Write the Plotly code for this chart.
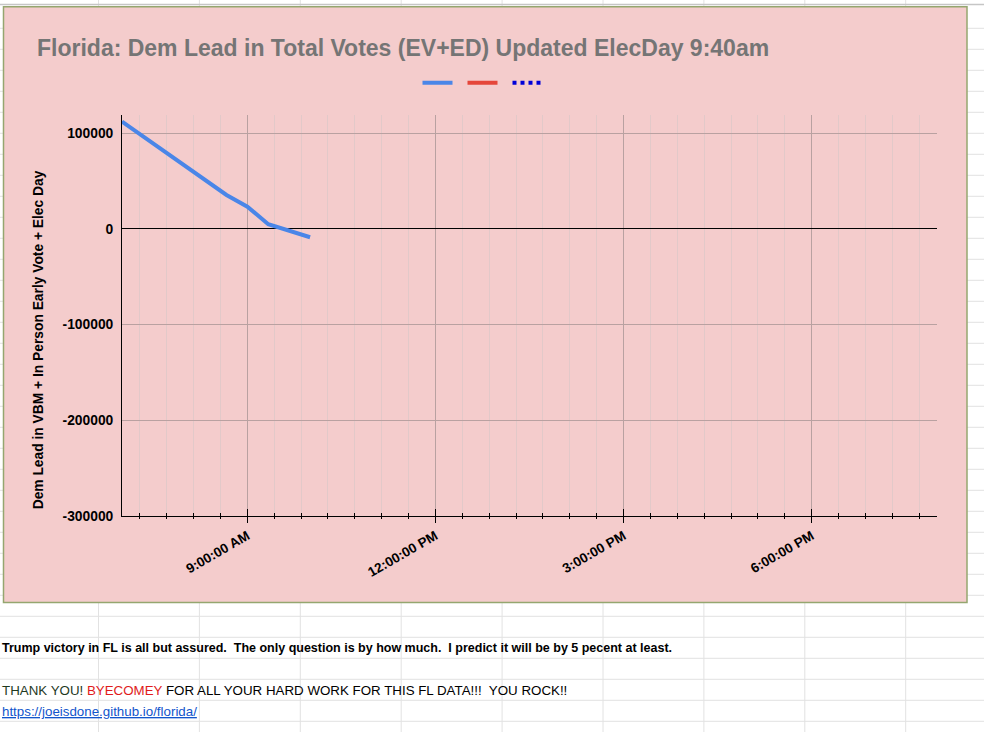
import plotly.graph_objects as go

# ---------------- data ----------------
times = ["2016-11-08 07:00", "2016-11-08 08:40", "2016-11-08 09:00",
         "2016-11-08 09:20", "2016-11-08 10:00"]
dem_lead = [112200, 35500, 23300, 4900, -8700]
rep_series = [None, None, None, None, None]
proj_series = [None, None, None, None, None]
series_names = ["", "", ""]
series_colors = ["#4a86e8", "#e5463a", "#0000d8"]
y_tickvals = [-300000, -200000, -100000, 0, 100000]
y_ticktext = ["-300000", "-200000", "-100000", "0", "100000"]
x_range = ["2016-11-08 07:00", "2016-11-08 20:00"]
y_range = [-300000, 119100]
major_tick0 = "2016-11-08 09:00"
major_dtick_ms = 3 * 3600 * 1000
minor_dtick_ms = major_dtick_ms / 7

title_text = "Florida: Dem Lead in Total Votes (EV+ED) Updated ElecDay 9:40am"
y_title = "Dem Lead in VBM + In Person Early Vote + Elec Day"
note1 = ("Trump victory in FL is all but assured.  The only question is by how much.  "
         "I predict it will be by 5 pecent at least.")
note2a = "THANK YOU! "
note2b = "BYECOMEY"
note2c = " FOR ALL YOUR HARD WORK FOR THIS FL DATA!!!  YOU ROCK!!"
link_text = "https://joeisdone.github.io/florida/"

# ---------------- layout geometry ----------------
W, H = 984, 732
ML, MR, MT, MB = 122, 47, 115, 216
PW, PH = W - ML - MR, H - MT - MB

def px_x(px):
    return (px - ML) / PW

def px_y(py):
    return 1 - (py - MT) / PH

FONT = "Arial, 'Liberation Sans', sans-serif"
MAJOR_GRID = "#b9a1a1"
MINOR_GRID = "#e2c9c9"
SHEET_GRID = "#e2e2e2"

def nb(s):
    return s.replace("  ", "\u00a0 ")

fig = go.Figure()
fig.add_trace(go.Scatter(x=times, y=dem_lead, mode="lines", name=series_names[0],
                         line=dict(color=series_colors[0], width=4)))
fig.add_trace(go.Scatter(x=times, y=rep_series, mode="lines", name=series_names[1],
                         line=dict(color=series_colors[1], width=4)))
fig.add_trace(go.Scatter(x=times, y=proj_series, mode="lines", name=series_names[2], xaxis="x2",
                         line=dict(color=series_colors[2], width=4, dash="dot")))

shapes = []
# spreadsheet grid behind the chart
ROW0, ROW_H = 28.3, 21.0
COL0, COL_W = 98.5, 100.9
y = ROW0
while y < H:
    shapes.append(dict(type="line", xref="paper", yref="paper", x0=px_x(0), x1=px_x(W),
                       y0=px_y(y), y1=px_y(y), line=dict(color=SHEET_GRID, width=1), layer="below"))
    y += ROW_H
x = COL0
while x < W:
    shapes.append(dict(type="line", xref="paper", yref="paper", x0=px_x(x), x1=px_x(x),
                       y0=px_y(0), y1=px_y(H), line=dict(color=SHEET_GRID, width=1), layer="below"))
    x += COL_W
shapes.append(dict(type="line", xref="paper", yref="paper", x0=px_x(0), x1=px_x(W),
                   y0=px_y(4.5), y1=px_y(4.5), line=dict(color="#c6c6c6", width=1.5), layer="below"))
# chart box
shapes.append(dict(type="rect", xref="paper", yref="paper", x0=px_x(3.5), x1=px_x(967),
                   y0=px_y(6.8), y1=px_y(602.5), fillcolor="#f4cccc",
                   line=dict(color="#95a66f", width=1.5), layer="below"))

annotations = [
    dict(text="<b>" + y_title + "</b>", textangle=-90, x=px_x(38.3), y=px_y(340),
         xref="paper", yref="paper", xanchor="center", yanchor="middle", showarrow=False,
         font=dict(family=FONT, size=13.8, color="black")),
    dict(text="<b>" + nb(note1) + "</b>", x=px_x(0), y=px_y(648), xref="paper", yref="paper",
         xanchor="left", yanchor="middle", showarrow=False,
         font=dict(family=FONT, size=12.5, color="black")),
    dict(text="<span style='color:#1f3a1f'>" + note2a + "</span><span style='color:#e01b1b'>" + note2b +
              "</span>" + nb(note2c), x=px_x(0), y=px_y(690), xref="paper", yref="paper",
         xanchor="left", yanchor="middle", showarrow=False,
         font=dict(family=FONT, size=13.33, color="black")),
    dict(text="<span style='text-decoration:underline'>" + link_text + "</span>",
         x=px_x(0), y=px_y(711.5), xref="paper", yref="paper",
         xanchor="left", yanchor="middle", showarrow=False,
         font=dict(family=FONT, size=13.33, color="#1155cc")),
]

fig.update_layout(
    width=W, height=H,
    margin=dict(l=ML, r=MR, t=MT, b=MB, pad=0),
    paper_bgcolor="white", plot_bgcolor="rgba(0,0,0,0)",
    title=dict(text="<b>" + title_text + "</b>", xref="container", yref="container",
               x=37 / W, xanchor="left", y=1 - 48 / H, yanchor="middle",
               font=dict(family=FONT, size=23, color="#757575")),
    showlegend=True,
    legend=dict(orientation="h", x=px_x(485), xanchor="center", y=px_y(82.7), yanchor="middle",
                bgcolor="rgba(0,0,0,0)", itemwidth=30, font=dict(size=10),
                traceorder="normal"),
    xaxis=dict(type="date", range=x_range, tick0=major_tick0, dtick=major_dtick_ms,
               tickformat="%-I:%M:%S %p", tickangle=-30,
               ticks="outside", ticklen=6, tickcolor="black", tickwidth=1,
               showline=True, linecolor="black", linewidth=1,
               showgrid=True, gridcolor=MAJOR_GRID, gridwidth=1, zeroline=False,
               tickfont=dict(family=FONT, size=13.5, color="black", weight="bold"),
               minor=dict(tick0=major_tick0, dtick=minor_dtick_ms, ticks="outside", ticklen=2,
                          tickcolor="black", showgrid=True, gridcolor=MINOR_GRID, gridwidth=1)),
    xaxis2=dict(type="date", range=x_range, overlaying="x", anchor="y", side="bottom",
                tick0=major_tick0, dtick=major_dtick_ms, ticks="inside", ticklen=7,
                tickcolor="black", showticklabels=False, showgrid=False, showline=False,
                zeroline=False,
                minor=dict(tick0=major_tick0, dtick=minor_dtick_ms, ticks="inside", ticklen=3,
                           tickcolor="black", showgrid=False)),
    yaxis=dict(range=y_range, tickvals=y_tickvals, ticktext=y_ticktext,
               showgrid=True, gridcolor=MAJOR_GRID, gridwidth=1,
               zeroline=True, zerolinecolor="black", zerolinewidth=1,
               showline=True, linecolor="black", linewidth=1, ticks="", ticklabelstandoff=5,
               tickfont=dict(family=FONT, size=13.8, color="black", weight="bold")),
    shapes=shapes,
    annotations=annotations,
)

fig.write_html("out.html")
